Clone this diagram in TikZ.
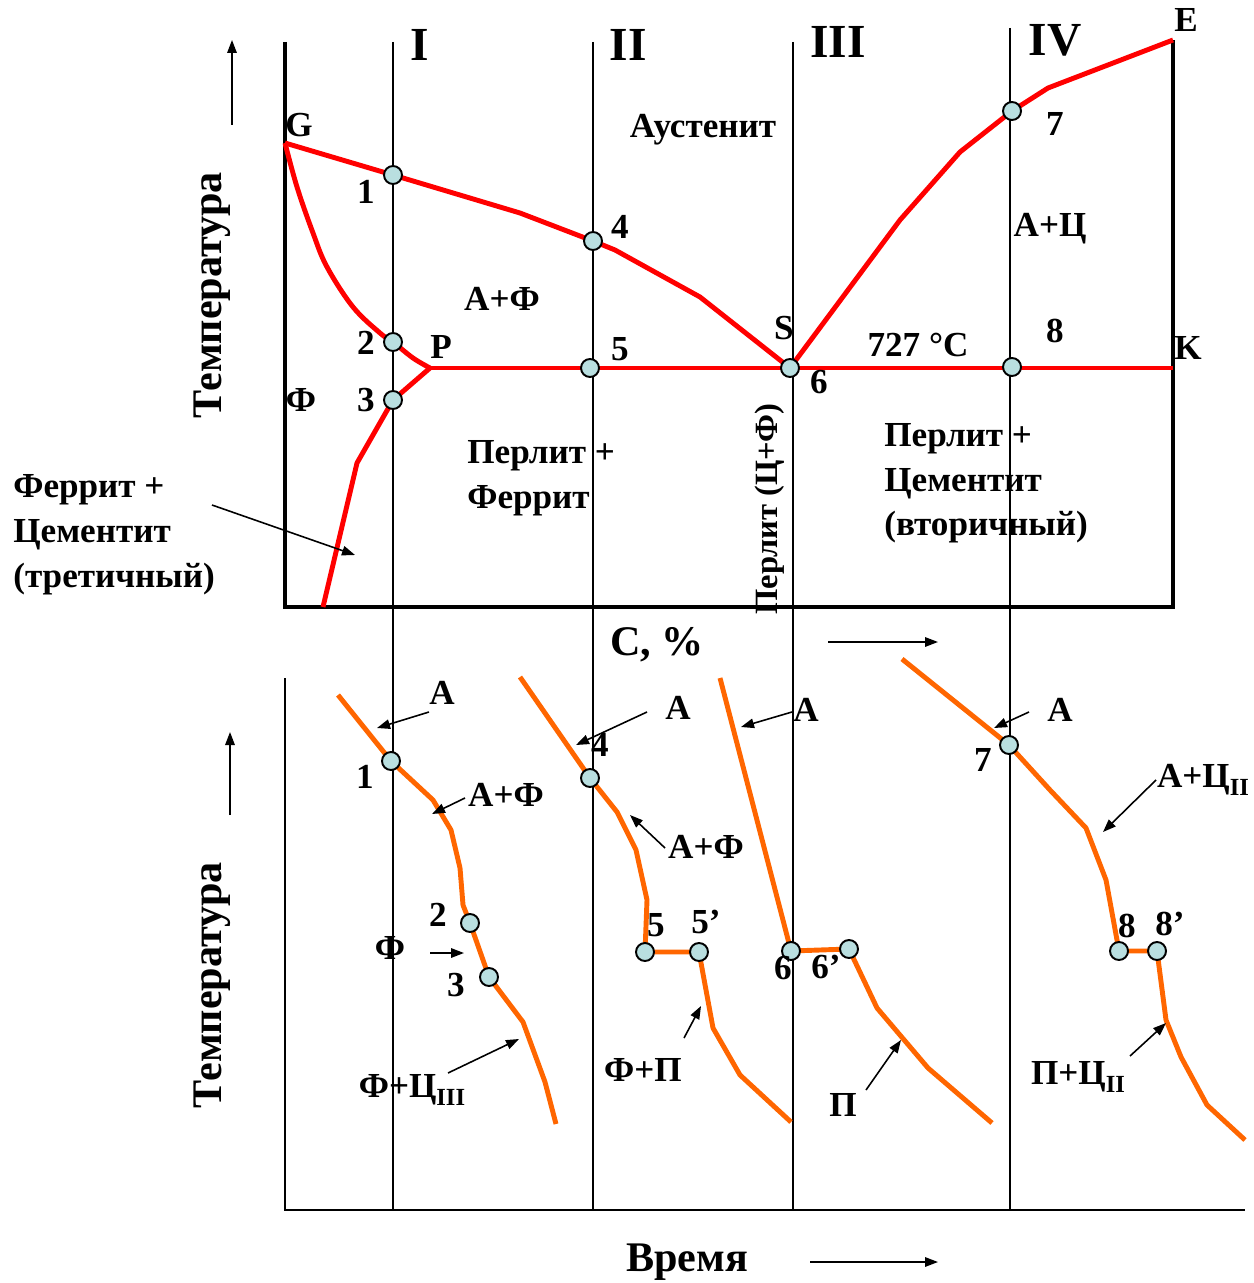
\documentclass[tikz,border=0pt]{standalone}
\usepackage{fontspec}
\setmainfont{Liberation Serif}
\usetikzlibrary{arrows.meta}
\definecolor{ironred}{HTML}{FF0000}
\definecolor{coolorange}{HTML}{FF6600}
\definecolor{dotblue}{HTML}{B9DFE0}
\newcommand{\lowsub}[1]{\raisebox{-0.45ex}{\fontsize{14}{14}\selectfont #1}}
\tikzset{
  lbl/.style={font=\fontsize{20}{25.5}\selectfont\bfseries, inner sep=0pt},
  roman/.style={font=\fontsize{27}{30}\selectfont\bfseries, inner sep=0pt},
  axlbl/.style={font=\fontsize{24}{28}\selectfont\bfseries, inner sep=0pt},
  frame/.style={line width=2.6pt, draw=black},
  baseaxis/.style={line width=1.2pt, draw=black},
  guide/.style={line width=1.1pt, draw=black},
  redline/.style={draw=ironred, line width=2.8pt, line join=round},
  coolline/.style={draw=coolorange, line width=2.8pt, line join=round},
  dot/.style={circle, draw=black, line width=1.1pt, fill=dotblue,
    inner sep=0pt, minimum size=0.36cm},
  pointer/.style={-{Triangle[length=2.6mm,width=1.9mm]}, line width=0.9pt},
}

\begin{document}
\begin{tikzpicture}[x=0.02cm,y=-0.02cm]
\useasboundingbox (0,0) rectangle (1253,1283);
% alloy columns I..IV run through both halves
\foreach \cx/\ct in {393/42, 593/42, 793/42, 1010/28}
  \draw[guide] (\cx,\ct) -- (\cx,1210);
\draw[frame] (285,42) -- (285,607) -- (1173,607) -- (1173,40);
\draw[baseaxis] (285,678) -- (285,1210) -- (1245,1210);

% phase diagram points
\coordinate (G) at (285,143);
\coordinate (P) at (430,368);
\coordinate (S) at (790,368);
\coordinate (K) at (1173,368);
\coordinate (E) at (1173,40);
\coordinate (d1) at (393,175);
\coordinate (d2) at (393,342);
\coordinate (d3) at (393,400);
\coordinate (d4) at (593,241);
\coordinate (d5) at (590,368);
\coordinate (d7) at (1012,111);
\coordinate (d8) at (1012,367);
\draw[redline] (G) -- (d1) -- (520,213) -- (d4) -- (615,250) -- (700,297) -- (S);
\draw[redline] plot[smooth, tension=0.6] coordinates
  {(285,143) (297,187) (313,233) (327,267) (353,307) (380,333) (393,342) (413,358) (430,368)};
\draw[redline] (P) -- (K);
\draw[redline] (P) -- (d3) -- (357,463) -- (323,607);
\draw[redline] (S) -- (900,220) -- (960,152) -- (d7) -- (1048,88) -- (E);

% cooling curves
\coordinate (b1) at (391,761);
\coordinate (b2) at (470,923);
\coordinate (b3) at (489,977);
\coordinate (b4) at (590,778);
\coordinate (b5) at (645,952);
\coordinate (b5p) at (699,952);
\coordinate (b6) at (791,951);
\coordinate (b6p) at (849,949);
\coordinate (b7) at (1009,745);
\coordinate (b8) at (1119,951);
\coordinate (b8p) at (1157,951);
\draw[coolline] (338,695) -- (b1) -- (433,800) -- (451,830) -- (460,868) -- (463,905)
  -- (b2) -- (b3) -- (523,1022) -- (545,1082) -- (556,1124);
\draw[coolline] (520,677) -- (b4) -- (617,812) -- (636,850) -- (647,900) -- (b5)
  -- (b5p) -- (713,1028) -- (740,1075) -- (791,1122);
\draw[coolline] (720,678) -- (b6) -- (b6p) -- (877,1008) -- (928,1068) -- (992,1123);
\draw[coolline] (902,659) -- (b7) -- (1050,790) -- (1086,828) -- (1106,880) -- (b8)
  -- (b8p) -- (1166,1020) -- (1181,1057) -- (1207,1105) -- (1245,1140);

\foreach \d in {d1,d2,d3,d4,d5,S,d7,d8,b1,b2,b3,b4,b5,b5p,b6,b6p,b7,b8,b8p}
  \node[dot] (m-\d) at (\d) {};

% axes
\node[axlbl, rotate=90] (ttop) at (212,295) {Температура};
\node[axlbl, rotate=90] (tbot) at (212,985) {Температура};
\node[axlbl] (carbon) at (657,645) {C, \%};
\node[axlbl] (time) at (687,1262) {Время};
\coordinate (up1a) at (232,125); \coordinate (up1b) at (232,40);
\coordinate (up2a) at (230,815); \coordinate (up2b) at (230,732);
\coordinate (cxa) at (828,642); \coordinate (cxb) at (938,642);
\coordinate (txa) at (810,1262); \coordinate (txb) at (938,1262);
\draw[pointer] (up1a) -- (up1b);
\draw[pointer] (up2a) -- (up2b);
\draw[pointer] (cxa) -- (cxb);
\draw[pointer] (txa) -- (txb);

% column numerals and letters
\node[roman] (c1) at (420,45) {I};
\node[roman] (c2) at (628,45) {II};
\node[roman] (c3) at (838,42) {III};
\node[roman] (c4) at (1055,40) {IV};
\node[lbl] (lE) at (1186,20) {E};
\node[lbl] (lG) at (299,125) {G};
\node[lbl] (lK) at (1188,348) {K};
\node[lbl] (lP) at (441,347) {P};
\node[lbl] (lS) at (784,328) {S};
\node[lbl] (n1) at (366,192) {1};
\node[lbl] (n2) at (366,343) {2};
\node[lbl] (n3) at (366,400) {3};
\node[lbl] (n4) at (620,227) {4};
\node[lbl] (n5) at (620,349) {5};
\node[lbl] (n6) at (819,382) {6};
\node[lbl] (n7) at (1055,124) {7};
\node[lbl] (n8) at (1055,331) {8};
\node[lbl] (fer) at (301,400) {Ф};
\node[lbl] (aust) at (703,130) {Аустенит};
\node[lbl] (af) at (502,299) {А+Ф};
\node[lbl] (ac) at (1050,229) {А+Ц};
\node[lbl] (eut) at (918,345) {727 °C};
\node[lbl, align=left, anchor=north west] (pf) at (467,440) {Перлит +\\Феррит};
\node[lbl, align=left, anchor=north west] (pc) at (884,423) {Перлит +\\Цементит\\(вторичный)};
\node[lbl, align=left, anchor=west] (fc) at (13,535) {Феррит +\\Цементит\\(третичный)};
\node[lbl, rotate=90, font=\fontsize{18.5}{22}\selectfont\bfseries] (perl) at (770,509) {Перлит (Ц+Ф)};

% cooling curve labels
\node[lbl] (kA1) at (442,693) {А};
\node[lbl] (k1) at (365,777) {1};
\node[lbl] (kAF1) at (506,795) {А+Ф};
\node[lbl] (k2) at (438,915) {2};
\node[lbl] (kF) at (390,948) {Ф};
\node[lbl] (k3) at (456,985) {3};
\node[lbl] (kFC) at (412,1090) {Ф+Ц\lowsub{III}};
\node[lbl] (kA2) at (678,708) {А};
\node[lbl] (k4) at (600,745) {4};
\node[lbl] (kAF2) at (706,847) {А+Ф};
\node[lbl] (k5) at (656,925) {5};
\node[lbl] (k5p) at (706,922) {5’};
\node[lbl] (kFP) at (643,1070) {Ф+П};
\node[lbl] (kA3) at (806,710) {А};
\node[lbl] (k6) at (783,968) {6};
\node[lbl] (k6p) at (826,967) {6’};
\node[lbl] (kP) at (843,1105) {П};
\node[lbl] (kA4) at (1060,710) {А};
\node[lbl] (k7) at (983,760) {7};
\node[lbl] (kAC) at (1203,780) {А+Ц\lowsub{II}};
\node[lbl] (k8) at (1127,926) {8};
\node[lbl] (k8p) at (1170,924) {8’};
\node[lbl] (kPC) at (1078,1077) {П+Ц\lowsub{II}};

% pointers from labels to regions
\foreach \nm/\fx/\fy/\tx/\ty in {fc/212/505/355/555, A1/429/712/377/728,
    AF1/465/798/432/814, F/430/953/464/953, FC/448/1073/519/1039,
    A2/647/712/576/745, AF2/665/848/630/815, FP/684/1038/701/1006,
    A3/792/712/741/727, P/866/1090/901/1040, A4/1029/712/994/728,
    AC/1156/780/1103/832, PC/1130/1056/1166/1023}{
  \coordinate (\nm-tail) at (\fx,\fy);
  \coordinate (\nm-tip) at (\tx,\ty);
  \draw[pointer] (\nm-tail) -- (\nm-tip);}
\end{tikzpicture}
\end{document}
